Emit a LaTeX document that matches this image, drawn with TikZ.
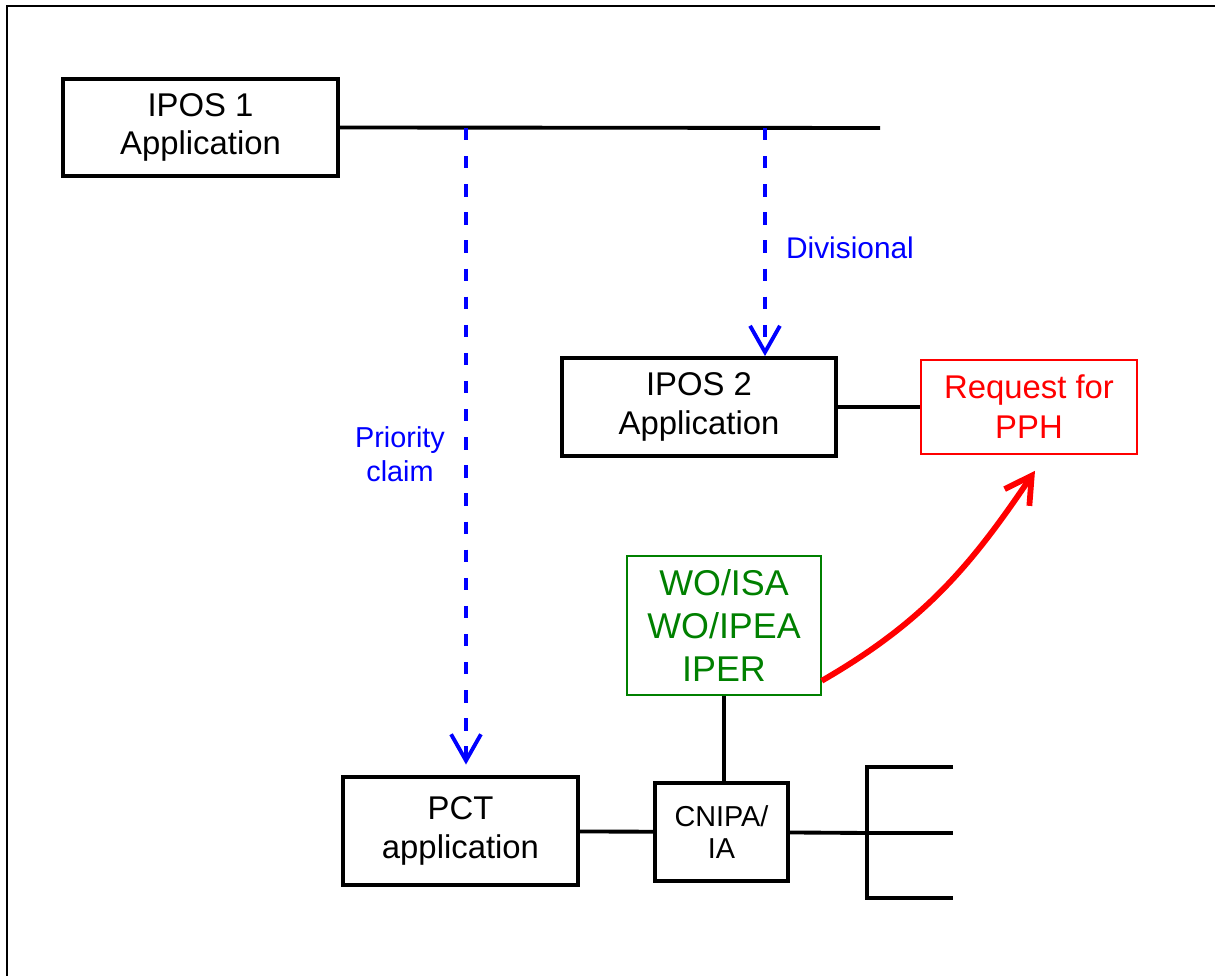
\documentclass[tikz,border=0pt]{standalone}
\usepackage{fontspec}
\setmainfont{Liberation Sans}
\usetikzlibrary{calc}
\usetikzlibrary{arrows.meta}
\definecolor{pphred}{RGB}{255,0,0}
\definecolor{reportgreen}{RGB}{0,128,0}
\definecolor{claimblue}{RGB}{0,0,255}
\tikzset{appbox/.style={draw=black,line width=2.2pt,align=center,inner sep=0pt,font=\fontsize{18.7}{22.1}\selectfont}}
\tikzset{wire/.style={draw=black,line width=2.2pt}}
\tikzset{dasharrow/.style={draw=claimblue,line width=2.2pt,dash pattern=on 7pt off 9pt,-{Straight Barb[length=15pt,width=17pt]}}}
\tikzset{note/.style={text=claimblue,align=center,inner sep=0pt}}

\begin{document}
\begin{tikzpicture}[x=0.02cm,y=-0.02cm]
		\useasboundingbox (0,0) rectangle (1215,976);
		\draw[line width=1.3pt] (7,976) -- (7,6) -- (1215,6);
		\node[appbox,minimum width=5.5cm,minimum height=1.94cm] (ipos1) at (200.5,127.5) {IPOS 1\\Application};
		\node[appbox,minimum width=5.48cm,minimum height=1.96cm] (ipos2) at (699,407) {IPOS 2\\Application};
		\node[appbox,minimum width=4.7cm,minimum height=2.16cm] (pct) at (460.5,831) {PCT\\application};
		\node[appbox,minimum width=2.66cm,minimum height=1.96cm,font=\fontsize{16.4}{18.7}\selectfont] (cnipa) at (721.5,832) {CNIPA/\\IA};
		\node[draw=pphred,line width=0.9pt,text=pphred,align=center,inner sep=0pt,minimum width=4.32cm,minimum height=1.88cm,font=\fontsize{18.7}{22.7}\selectfont] (pph) at (1029,407) {Request for\\PPH};
		\node[draw=reportgreen,line width=0.9pt,text=reportgreen,align=center,inner sep=0pt,minimum width=3.88cm,minimum height=2.78cm,font=\fontsize{20.4}{24.4}\selectfont] (report) at (724,625.5) {WO/ISA\\WO/IPEA\\IPER};
		\node[note,font=\fontsize{16.4}{19.3}\selectfont] (priolabel) at (400,454) {Priority\\claim};
		\node[note,font=\fontsize{17}{20}\selectfont] (divlabel) at (850,248) {Divisional};
		% timeline of the first filing
		\coordinate (lineend) at (880,128);
		\coordinate (prio) at (466,128);
		\coordinate (div) at (765,128);
		\draw [wire] (ipos1.east) -- (lineend);
		\draw [dasharrow,shorten >=6pt] (prio) -- (prio |- pct.north);
		\draw [dasharrow] (div) -- (div |- ipos2.north);
		\draw [wire] (ipos2) -- (pph);
		\draw [wire] (pct) -- (cnipa);
		\draw [wire] (report.south) -- (report.south |- cnipa.north);
		% national phase entries
		\coordinate (fork) at (867,833);
		\coordinate (forktop) at (867,767);
		\coordinate (forkbot) at (867,898);
		\draw [wire] (cnipa) -- (fork);
		\draw [wire] ($(forktop)+(86,0)$) -- (forktop) -- (forkbot) -- ($(forkbot)+(86,0)$);
		\draw [wire] (fork) -- ($(fork)+(86,0)$);
		\draw [pphred,line width=3.3pt,-{Straight Barb[length=15pt,width=17pt]}] ($(report.south east)+(0,-15)$) to[out=30, in=236] ($(pph.south)+(6,16)$);
	\end{tikzpicture}
\end{document}
